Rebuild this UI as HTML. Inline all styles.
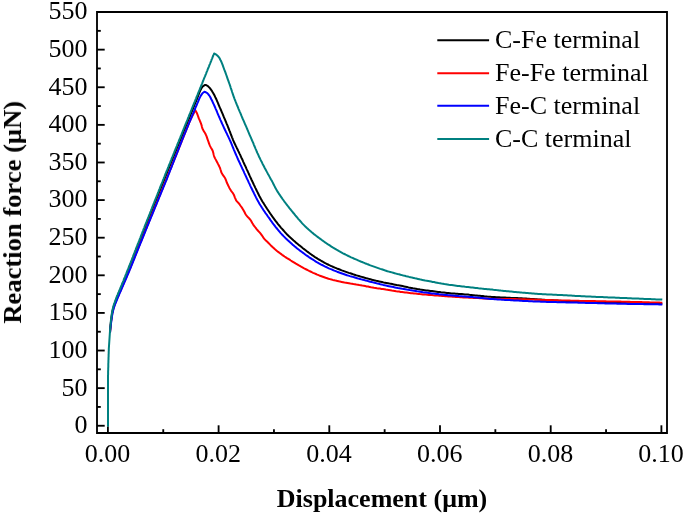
<!DOCTYPE html>
<html lang="en">
<head>
<meta charset="utf-8">
<title>Reaction force vs displacement</title>
<style>
html,body{margin:0;padding:0;background:#fff;}
body{width:685px;height:515px;overflow:hidden;position:relative;font-family:"Liberation Serif","Times New Roman",serif;}
</style>
</head>
<body>
<svg width="685" height="515" viewBox="0 0 685 515" style="position:absolute;left:0;top:0">
<polyline fill="none" stroke="#000000" stroke-width="2" stroke-linejoin="round" points="110.0,332.5 110.1,331.0 110.2,329.5 110.3,328.0 110.5,326.5 110.6,325.1 110.8,323.6 110.9,322.1 111.1,320.6 111.3,319.1 111.5,317.6 111.7,316.1 111.9,314.6 112.1,313.2 112.4,311.7 112.7,310.2 113.1,308.7 113.5,307.3 113.9,305.9 114.4,304.4 114.9,303.0 115.4,301.6 116.0,300.2 116.5,298.8 117.1,297.4 117.6,296.0 118.2,294.6 118.8,293.2 119.4,291.9 120.0,290.5 120.5,289.1 121.1,287.7 121.7,286.3 122.3,284.9 122.8,283.5 123.4,282.2 124.0,280.8 124.5,279.4 125.1,278.0 125.7,276.6 126.2,275.2 126.8,273.8 127.4,272.4 127.9,271.0 128.5,269.7 129.0,268.3 129.6,266.9 130.2,265.5 130.7,264.1 131.3,262.7 131.8,261.3 132.4,259.9 132.9,258.5 133.5,257.1 134.0,255.7 134.6,254.3 135.1,252.9 135.7,251.5 136.2,250.1 136.8,248.7 137.3,247.3 137.9,245.9 138.4,244.5 139.0,243.2 139.5,241.8 140.1,240.4 140.6,239.0 141.2,237.6 141.7,236.2 142.3,234.8 142.8,233.4 143.4,232.0 143.9,230.6 144.5,229.2 145.0,227.8 145.6,226.4 146.1,225.0 146.7,223.6 147.2,222.2 147.8,220.8 148.3,219.5 148.9,218.1 149.4,216.7 150.0,215.3 150.6,213.9 151.1,212.5 151.7,211.1 152.2,209.7 152.8,208.3 153.3,206.9 153.9,205.5 154.4,204.1 155.0,202.7 155.5,201.4 156.1,200.0 156.7,198.6 157.2,197.2 157.8,195.8 158.3,194.4 158.9,193.0 159.4,191.6 160.0,190.2 160.6,188.8 161.1,187.4 161.7,186.0 162.2,184.7 162.8,183.3 163.3,181.9 163.9,180.5 164.5,179.1 165.0,177.7 165.6,176.3 166.1,174.9 166.7,173.5 167.3,172.1 167.8,170.7 168.4,169.4 168.9,168.0 169.5,166.6 170.1,165.2 170.6,163.8 171.2,162.4 171.7,161.0 172.3,159.6 172.9,158.2 173.4,156.9 174.0,155.5 174.6,154.1 175.1,152.7 175.7,151.3 176.3,149.9 176.8,148.5 177.4,147.1 177.9,145.8 178.5,144.4 179.1,143.0 179.6,141.6 180.2,140.2 180.8,138.8 181.3,137.4 181.9,136.0 182.5,134.6 183.0,133.3 183.6,131.9 184.1,130.5 184.7,129.1 185.3,127.7 185.8,126.3 186.4,124.9 187.0,123.5 187.5,122.2 188.1,120.8 188.7,119.4 189.2,118.0 189.8,116.6 190.3,115.2 190.9,113.8 191.5,112.4 192.0,111.1 192.6,109.7 193.1,108.3 193.7,106.9 194.3,105.5 194.8,104.1 195.4,102.7 196.0,101.3 196.5,100.0 197.1,98.6 197.6,97.2 198.2,95.8 198.6,94.5 199.1,93.3 199.6,92.0 200.1,90.8 200.7,89.7 201.3,88.5 202.0,87.4 202.8,86.3 205.1,84.9 206.6,85.3 207.8,86.0 208.9,87.1 209.9,88.2 210.8,89.4 211.7,90.6 212.5,91.9 213.3,93.2 214.0,94.5 214.7,95.8 215.3,97.2 216.0,98.5 216.6,99.9 217.2,101.3 217.8,102.7 218.3,104.0 218.9,105.4 219.5,106.8 220.1,108.2 220.7,109.5 221.3,110.9 221.9,112.3 222.5,113.7 223.1,115.1 223.6,116.4 224.2,117.8 224.8,119.2 225.4,120.6 226.0,122.0 226.5,123.3 227.1,124.7 227.7,126.1 228.2,127.5 228.8,128.9 229.3,130.3 229.9,131.7 230.4,133.1 230.9,134.5 231.5,135.9 232.0,137.3 232.6,138.7 233.1,140.1 233.7,141.4 234.3,142.8 235.0,144.2 235.6,145.5 236.3,146.9 236.9,148.2 237.6,149.5 238.2,150.9 238.9,152.2 239.5,153.6 240.2,154.9 240.8,156.3 241.4,157.7 242.1,159.0 242.7,160.4 243.3,161.8 243.9,163.1 244.5,164.5 245.2,165.8 245.8,167.2 246.4,168.6 247.0,169.9 247.7,171.3 248.3,172.7 248.9,174.0 249.5,175.4 250.1,176.7 250.8,178.1 251.4,179.5 252.0,180.8 252.7,182.2 253.3,183.5 253.9,184.9 254.6,186.2 255.2,187.6 255.9,188.9 256.5,190.3 257.2,191.6 257.9,193.0 258.5,194.3 259.2,195.7 259.9,197.0 260.6,198.3 261.3,199.6 262.1,200.9 262.9,202.2 263.7,203.4 264.5,204.7 265.3,206.0 266.1,207.2 266.9,208.5 267.7,209.7 268.6,211.0 269.4,212.2 270.2,213.5 271.1,214.7 271.9,215.9 272.8,217.2 273.7,218.4 274.6,219.6 275.5,220.8 276.4,222.0 277.3,223.1 278.2,224.3 279.2,225.5 280.1,226.6 281.1,227.8 282.1,228.9 283.1,230.0 284.1,231.2 285.1,232.3 286.1,233.4 287.1,234.5 288.2,235.5 289.2,236.6 290.3,237.6 291.4,238.6 292.5,239.6 293.6,240.6 294.8,241.6 295.9,242.6 297.1,243.5 298.3,244.5 299.4,245.4 300.6,246.3 301.8,247.3 302.9,248.2 304.1,249.1 305.3,250.0 306.5,251.0 307.7,251.9 308.9,252.8 310.1,253.7 311.3,254.5 312.5,255.4 313.8,256.2 315.0,257.1 316.3,257.9 317.5,258.7 318.8,259.5 320.1,260.2 321.4,261.0 322.7,261.7 324.0,262.5 325.3,263.2 326.6,263.8 328.0,264.5 329.3,265.2 330.7,265.8 332.1,266.4 333.4,267.0 334.8,267.6 336.2,268.2 337.6,268.8 339.0,269.3 340.4,269.8 341.8,270.4 343.2,270.9 344.6,271.4 346.0,271.9 347.4,272.4 348.8,272.9 350.3,273.3 351.7,273.8 353.1,274.3 354.5,274.7 356.0,275.2 357.4,275.6 358.8,276.0 360.3,276.5 361.7,276.9 363.1,277.3 364.6,277.7 366.0,278.1 367.5,278.5 368.9,278.9 370.4,279.3 371.8,279.7 373.3,280.1 374.7,280.4 376.2,280.8 377.6,281.1 379.1,281.4 380.6,281.7 382.0,282.0 383.5,282.4 385.0,282.7 386.4,283.0 387.9,283.3 389.4,283.6 390.8,283.8 392.3,284.1 393.8,284.4 395.2,284.7 396.7,285.0 398.2,285.2 399.7,285.5 401.1,285.8 402.6,286.1 404.1,286.4 405.5,286.7 407.0,287.0 408.5,287.4 409.9,287.7 411.4,288.0 412.9,288.3 414.3,288.5 415.8,288.8 417.3,289.1 418.8,289.3 420.2,289.6 421.7,289.8 423.2,290.0 424.7,290.2 426.2,290.4 427.7,290.5 429.1,290.7 430.6,290.9 432.1,291.1 433.6,291.3 435.1,291.5 436.6,291.7 438.1,291.9 439.5,292.1 441.0,292.3 442.5,292.4 444.0,292.6 445.5,292.8 447.0,293.0 448.5,293.1 450.0,293.2 451.4,293.4 452.9,293.5 454.4,293.6 455.9,293.7 457.4,293.8 458.9,293.9 460.4,294.0 461.9,294.1 463.4,294.2 464.9,294.4 466.4,294.5 467.9,294.6 469.4,294.8 470.9,294.9 472.3,295.1 473.8,295.2 475.3,295.4 476.8,295.5 478.3,295.7 479.8,295.8 481.3,296.0 482.8,296.1 484.3,296.3 485.8,296.4 487.2,296.6 488.7,296.7 490.2,296.8 491.7,296.9 493.2,297.0 494.7,297.1 496.2,297.2 497.7,297.3 499.2,297.3 500.7,297.4 502.2,297.5 503.7,297.6 505.2,297.6 506.7,297.7 508.2,297.8 509.7,297.8 511.2,297.9 512.7,297.9 514.2,298.0 515.7,298.1 517.2,298.1 518.7,298.2 520.2,298.3 521.6,298.3 523.1,298.4 524.6,298.5 526.1,298.6 527.6,298.7 529.1,298.8 530.6,298.9 532.1,299.0 533.6,299.1 535.1,299.2 536.6,299.3 538.1,299.4 539.6,299.5 541.1,299.6 542.6,299.7 544.1,299.8 545.6,299.9 547.1,300.0 548.5,300.1 550.0,300.2 551.5,300.3 553.0,300.3 554.5,300.4 556.0,300.5 557.5,300.6 559.0,300.7 560.5,300.8 562.0,300.9 563.5,301.0 565.0,301.1 566.5,301.1 568.0,301.2 569.5,301.3 571.0,301.4 572.5,301.5 574.0,301.5 575.5,301.6 577.0,301.7 578.5,301.7 580.0,301.8 581.4,301.9 582.9,301.9 584.4,302.0 585.9,302.0 587.4,302.1 588.9,302.1 590.4,302.2 591.9,302.2 593.4,302.3 594.9,302.3 596.4,302.4 597.9,302.4 599.4,302.5 600.9,302.5 602.4,302.6 603.9,302.6 605.4,302.7 606.9,302.7 608.4,302.7 609.9,302.8 611.4,302.8 612.9,302.9 614.4,302.9 615.9,302.9 617.4,303.0 618.9,303.0 620.4,303.0 621.9,303.1 623.4,303.1 624.9,303.1 626.4,303.2 627.9,303.2 629.4,303.2 630.9,303.3 632.3,303.3 633.8,303.3 635.3,303.4 636.8,303.4 638.3,303.4 639.8,303.4 641.3,303.5 642.8,303.5 644.3,303.5 645.8,303.6 647.3,303.6 648.8,303.6 650.3,303.6 651.8,303.7 653.3,303.7 654.8,303.7 656.3,303.7 657.8,303.7 659.3,303.8 660.8,303.8 662.3,303.8"/>
<polyline fill="none" stroke="#ff0000" stroke-width="2" stroke-linejoin="round" points="110.0,332.5 110.1,331.0 110.3,329.5 110.4,328.0 110.5,326.5 110.7,325.1 110.9,323.6 111.0,322.1 111.2,320.6 111.4,319.1 111.6,317.6 111.8,316.1 112.1,314.6 112.3,313.2 112.6,311.7 113.0,310.2 113.4,308.7 113.8,307.3 114.3,305.9 114.8,304.4 115.3,303.0 115.9,301.6 116.5,300.2 117.0,298.8 117.6,297.4 118.2,296.0 118.8,294.6 119.4,293.2 120.0,291.9 120.6,290.5 121.2,289.1 121.8,287.7 122.4,286.3 123.0,284.9 123.6,283.5 124.2,282.2 124.8,280.8 125.4,279.4 126.0,278.0 126.6,276.6 127.2,275.2 127.8,273.8 128.4,272.4 129.0,271.0 129.5,269.7 130.1,268.3 130.7,266.9 131.2,265.5 131.8,264.1 132.4,262.7 132.9,261.3 133.5,259.9 134.1,258.5 134.6,257.1 135.2,255.7 135.7,254.3 136.3,252.9 136.9,251.5 137.4,250.1 138.0,248.7 138.5,247.3 139.1,245.9 139.7,244.5 140.2,243.2 140.8,241.8 141.4,240.4 141.9,239.0 142.5,237.6 143.1,236.2 143.6,234.8 144.2,233.4 144.8,232.0 145.3,230.6 145.9,229.2 146.5,227.8 147.0,226.4 147.6,225.0 148.2,223.6 148.7,222.2 149.3,220.8 149.9,219.5 150.4,218.1 151.0,216.7 151.6,215.3 152.2,213.9 152.7,212.5 153.3,211.1 153.9,209.7 154.4,208.3 155.0,206.9 155.6,205.5 156.2,204.1 156.7,202.7 157.3,201.4 157.9,200.0 158.4,198.6 159.0,197.2 159.6,195.8 160.2,194.4 160.7,193.0 161.3,191.6 161.9,190.2 162.5,188.8 163.0,187.4 163.6,186.0 164.2,184.7 164.7,183.3 165.3,181.9 165.9,180.5 166.5,179.1 167.0,177.7 167.6,176.3 168.1,174.9 168.7,173.5 169.2,172.1 169.8,170.7 170.4,169.4 170.9,168.0 171.5,166.6 172.0,165.2 172.6,163.8 173.2,162.4 173.7,161.0 174.3,159.6 174.8,158.2 175.4,156.9 176.0,155.5 176.5,154.1 177.1,152.7 177.6,151.3 178.2,149.9 178.8,148.5 179.3,147.1 179.9,145.8 180.4,144.4 181.0,143.0 181.6,141.6 182.1,140.2 182.7,138.8 183.3,137.4 183.8,136.0 184.4,134.6 184.9,133.3 185.5,131.9 186.1,130.5 186.6,129.1 187.2,127.7 187.7,126.3 188.3,124.9 188.9,123.5 189.4,122.2 190.0,120.8 190.6,119.4 191.2,118.2 191.8,117.0 192.4,115.9 193.0,114.7 193.6,113.5 195.3,110.1 196.0,111.4 196.7,112.7 197.3,114.1 197.8,115.5 198.3,116.9 198.8,118.4 199.4,119.7 200.0,121.1 200.6,122.5 201.1,123.9 201.6,125.3 201.9,126.8 202.3,128.2 202.9,129.6 203.7,130.9 204.5,132.2 205.3,133.5 205.9,134.8 206.5,136.2 207.0,137.6 207.5,139.1 208.0,140.5 208.5,141.9 209.0,143.3 209.5,144.7 210.1,146.1 210.8,147.4 211.6,148.7 212.3,150.0 212.9,151.4 213.3,152.9 213.6,154.4 214.0,155.8 214.5,157.2 215.2,158.6 215.9,159.9 216.6,161.2 217.3,162.5 218.0,163.9 218.7,165.2 219.3,166.5 220.0,167.9 220.4,169.3 220.9,170.8 221.3,172.2 222.0,173.6 222.8,174.9 223.7,176.1 224.5,177.3 225.3,178.6 225.9,180.0 226.4,181.4 226.9,182.8 227.6,184.2 228.2,185.5 228.9,186.9 229.5,188.2 230.3,189.5 231.1,190.8 232.0,192.0 232.9,193.2 233.7,194.5 234.3,195.9 234.8,197.3 235.4,198.7 236.0,200.1 236.9,201.3 237.9,202.4 238.9,203.5 239.8,204.7 240.7,206.0 241.6,207.2 242.4,208.4 243.2,209.7 243.9,211.0 244.6,212.3 245.3,213.7 246.1,215.0 247.0,216.2 248.0,217.3 249.1,218.3 250.1,219.5 251.0,220.7 251.7,222.0 252.4,223.3 253.2,224.6 254.1,225.8 255.0,227.0 255.9,228.2 256.8,229.4 257.8,230.5 258.8,231.6 259.8,232.7 260.8,233.9 261.7,235.1 262.5,236.3 263.4,237.6 264.3,238.8 265.3,239.9 266.4,240.9 267.5,242.0 268.5,243.0 269.6,244.1 270.6,245.2 271.7,246.2 272.8,247.3 273.9,248.3 275.0,249.3 276.1,250.2 277.3,251.2 278.5,252.1 279.7,253.0 280.9,253.9 282.1,254.8 283.3,255.6 284.5,256.5 285.8,257.3 287.0,258.1 288.3,258.9 289.6,259.7 290.8,260.5 292.1,261.3 293.4,262.1 294.7,262.9 295.9,263.7 297.2,264.4 298.5,265.2 299.8,265.9 301.1,266.7 302.4,267.4 303.7,268.1 305.1,268.8 306.4,269.5 307.7,270.2 309.1,270.9 310.4,271.5 311.8,272.2 313.1,272.8 314.5,273.4 315.9,274.0 317.2,274.6 318.6,275.2 320.0,275.8 321.4,276.3 322.8,276.8 324.2,277.3 325.6,277.8 327.1,278.2 328.5,278.7 329.9,279.1 331.4,279.5 332.8,279.9 334.3,280.2 335.7,280.6 337.2,280.9 338.7,281.2 340.1,281.6 341.6,281.9 343.1,282.2 344.5,282.5 346.0,282.7 347.5,283.0 348.9,283.3 350.4,283.6 351.9,283.8 353.4,284.1 354.8,284.3 356.3,284.6 357.8,284.8 359.3,285.1 360.7,285.3 362.2,285.6 363.7,285.8 365.2,286.1 366.6,286.4 368.1,286.6 369.6,286.9 371.1,287.2 372.5,287.4 374.0,287.7 375.5,287.9 377.0,288.2 378.4,288.4 379.9,288.6 381.4,288.9 382.9,289.1 384.4,289.3 385.8,289.6 387.3,289.8 388.8,290.0 390.3,290.2 391.8,290.5 393.2,290.7 394.7,290.9 396.2,291.2 397.7,291.4 399.2,291.6 400.6,291.9 402.1,292.1 403.6,292.3 405.1,292.5 406.6,292.6 408.1,292.8 409.5,293.0 411.0,293.2 412.5,293.3 414.0,293.5 415.5,293.6 417.0,293.8 418.5,293.9 420.0,294.1 421.5,294.2 422.9,294.4 424.4,294.5 425.9,294.6 427.4,294.8 428.9,294.9 430.4,295.0 431.9,295.1 433.4,295.3 434.9,295.4 436.4,295.5 437.9,295.6 439.4,295.7 440.9,295.8 442.3,296.0 443.8,296.1 445.3,296.2 446.8,296.3 448.3,296.4 449.8,296.5 451.3,296.6 452.8,296.7 454.3,296.8 455.8,296.9 457.3,297.0 458.8,297.1 460.3,297.2 461.8,297.3 463.3,297.4 464.8,297.5 466.2,297.6 467.7,297.6 469.2,297.7 470.7,297.8 472.2,297.8 473.7,297.9 475.2,298.0 476.7,298.1 478.2,298.1 479.7,298.2 481.2,298.3 482.7,298.4 484.2,298.5 485.7,298.6 487.2,298.7 488.7,298.8 490.2,298.8 491.7,298.8 493.2,298.9 494.7,298.9 496.2,298.9 497.7,298.9 499.2,298.9 500.6,298.9 502.1,299.0 503.6,299.0 505.1,299.0 506.6,299.0 508.1,299.0 509.6,299.1 511.1,299.1 512.6,299.1 514.1,299.1 515.6,299.1 517.1,299.2 518.6,299.2 520.1,299.2 521.6,299.3 523.1,299.3 524.6,299.3 526.1,299.4 527.6,299.4 529.1,299.5 530.6,299.5 532.1,299.6 533.6,299.6 535.1,299.7 536.6,299.7 538.1,299.8 539.6,299.8 541.1,299.9 542.6,299.9 544.1,299.9 545.6,300.0 547.0,300.0 548.5,300.1 550.0,300.1 551.5,300.2 553.0,300.2 554.5,300.2 556.0,300.3 557.5,300.3 559.0,300.4 560.5,300.4 562.0,300.5 563.5,300.5 565.0,300.5 566.5,300.6 568.0,300.6 569.5,300.6 571.0,300.7 572.5,300.7 574.0,300.7 575.5,300.8 577.0,300.8 578.5,300.8 580.0,300.9 581.5,300.9 583.0,300.9 584.5,301.0 586.0,301.0 587.5,301.0 589.0,301.0 590.5,301.1 592.0,301.1 593.4,301.1 594.9,301.1 596.4,301.2 597.9,301.2 599.4,301.2 600.9,301.3 602.4,301.3 603.9,301.3 605.4,301.3 606.9,301.4 608.4,301.4 609.9,301.4 611.4,301.4 612.9,301.5 614.4,301.5 615.9,301.5 617.4,301.6 618.9,301.6 620.4,301.6 621.9,301.7 623.4,301.7 624.9,301.7 626.4,301.8 627.9,301.8 629.4,301.8 630.9,301.9 632.4,301.9 633.9,301.9 635.4,302.0 636.9,302.0 638.4,302.1 639.9,302.1 641.3,302.1 642.8,302.2 644.3,302.2 645.8,302.3 647.3,302.3 648.8,302.3 650.3,302.4 651.8,302.4 653.3,302.5 654.8,302.5 656.3,302.5 657.8,302.6 659.3,302.6 660.8,302.7 662.3,302.7"/>
<polyline fill="none" stroke="#0000ff" stroke-width="2" stroke-linejoin="round" points="110.1,332.5 110.2,331.0 110.3,329.5 110.5,328.0 110.6,326.5 110.8,325.1 111.0,323.6 111.2,322.1 111.4,320.6 111.6,319.1 111.8,317.6 112.0,316.1 112.3,314.6 112.5,313.2 112.9,311.7 113.2,310.2 113.6,308.7 114.0,307.3 114.5,305.9 115.0,304.4 115.6,303.0 116.2,301.6 116.8,300.2 117.3,298.8 117.9,297.4 118.5,296.0 119.1,294.6 119.7,293.2 120.3,291.9 120.9,290.5 121.5,289.1 122.1,287.7 122.7,286.3 123.3,284.9 123.9,283.5 124.5,282.2 125.1,280.8 125.7,279.4 126.3,278.0 126.9,276.6 127.5,275.2 128.1,273.8 128.7,272.4 129.3,271.0 129.8,269.7 130.4,268.3 131.0,266.9 131.5,265.5 132.1,264.1 132.7,262.7 133.2,261.3 133.8,259.9 134.4,258.5 134.9,257.1 135.5,255.7 136.0,254.3 136.6,252.9 137.2,251.5 137.7,250.1 138.3,248.7 138.8,247.3 139.4,245.9 140.0,244.5 140.5,243.2 141.1,241.8 141.7,240.4 142.2,239.0 142.8,237.6 143.4,236.2 143.9,234.8 144.5,233.4 145.1,232.0 145.6,230.6 146.2,229.2 146.8,227.8 147.3,226.4 147.9,225.0 148.5,223.6 149.0,222.2 149.6,220.8 150.2,219.5 150.7,218.1 151.3,216.7 151.9,215.3 152.5,213.9 153.0,212.5 153.6,211.1 154.2,209.7 154.7,208.3 155.3,206.9 155.9,205.5 156.5,204.1 157.0,202.7 157.6,201.4 158.2,200.0 158.7,198.6 159.3,197.2 159.9,195.8 160.5,194.4 161.0,193.0 161.6,191.6 162.2,190.2 162.8,188.8 163.3,187.4 163.9,186.0 164.5,184.7 165.0,183.3 165.6,181.9 166.2,180.5 166.8,179.1 167.3,177.7 167.8,176.3 168.4,174.9 168.9,173.5 169.5,172.1 170.0,170.7 170.6,169.4 171.1,168.0 171.7,166.6 172.2,165.2 172.8,163.8 173.3,162.4 173.9,161.0 174.4,159.6 175.0,158.2 175.5,156.9 176.1,155.5 176.6,154.1 177.2,152.7 177.7,151.3 178.3,149.9 178.8,148.5 179.3,147.1 179.9,145.8 180.4,144.4 181.0,143.0 181.5,141.6 182.1,140.2 182.6,138.8 183.2,137.4 183.7,136.0 184.3,134.7 184.9,133.3 185.4,132.0 186.0,130.6 186.5,129.3 187.1,127.9 187.7,126.6 188.2,125.2 188.8,123.9 189.3,122.5 189.9,121.2 190.5,119.8 191.0,118.5 191.6,117.1 192.1,115.8 192.7,114.4 193.3,113.1 193.8,111.7 194.4,110.4 195.0,109.0 195.5,107.7 196.1,106.3 196.7,105.0 197.2,103.6 197.8,102.3 198.4,100.9 198.9,99.6 199.5,98.2 200.2,96.9 200.9,95.6 201.7,94.4 202.5,93.2 204.4,91.8 205.9,92.3 207.1,93.0 208.2,94.1 209.1,95.3 209.9,96.5 210.6,97.8 211.3,99.2 212.0,100.5 212.6,101.9 213.2,103.3 213.9,104.6 214.5,106.0 215.1,107.4 215.7,108.8 216.3,110.1 216.9,111.5 217.4,112.9 218.0,114.3 218.6,115.7 219.2,117.0 219.8,118.4 220.4,119.8 221.0,121.1 221.6,122.5 222.2,123.9 222.9,125.3 223.5,126.6 224.1,128.0 224.7,129.3 225.4,130.7 226.0,132.0 226.7,133.4 227.3,134.7 228.0,136.1 228.6,137.4 229.3,138.8 229.9,140.2 230.5,141.5 231.1,142.9 231.7,144.3 232.2,145.7 232.8,147.1 233.4,148.5 233.9,149.8 234.5,151.2 235.1,152.6 235.7,154.0 236.3,155.4 236.9,156.7 237.5,158.1 238.1,159.5 238.7,160.8 239.4,162.2 240.0,163.5 240.6,164.9 241.3,166.3 241.9,167.6 242.5,169.0 243.2,170.3 243.8,171.7 244.4,173.1 245.0,174.4 245.7,175.8 246.3,177.1 246.9,178.5 247.6,179.9 248.2,181.2 248.8,182.6 249.5,183.9 250.1,185.3 250.7,186.6 251.4,188.0 252.0,189.3 252.7,190.7 253.4,192.0 254.0,193.4 254.7,194.7 255.4,196.1 256.0,197.4 256.7,198.7 257.4,200.0 258.2,201.4 258.9,202.7 259.6,204.0 260.4,205.3 261.2,206.5 262.0,207.8 262.8,209.0 263.6,210.3 264.5,211.5 265.3,212.8 266.2,214.0 267.1,215.2 267.9,216.5 268.8,217.7 269.7,218.9 270.5,220.1 271.4,221.3 272.3,222.6 273.2,223.8 274.1,225.0 275.0,226.1 275.9,227.3 276.9,228.5 277.8,229.6 278.8,230.8 279.7,231.9 280.7,233.1 281.7,234.2 282.8,235.3 283.8,236.4 284.8,237.4 285.9,238.5 287.0,239.5 288.1,240.6 289.2,241.6 290.3,242.6 291.4,243.6 292.5,244.6 293.7,245.5 294.8,246.5 296.0,247.4 297.2,248.4 298.3,249.3 299.5,250.2 300.7,251.2 301.9,252.0 303.1,252.9 304.3,253.8 305.5,254.7 306.8,255.6 308.0,256.4 309.2,257.3 310.5,258.1 311.7,258.9 313.0,259.7 314.3,260.5 315.5,261.3 316.8,262.1 318.1,262.8 319.4,263.6 320.7,264.3 322.1,265.0 323.4,265.7 324.7,266.4 326.1,267.0 327.4,267.6 328.8,268.3 330.2,268.9 331.6,269.4 332.9,270.0 334.3,270.6 335.7,271.1 337.1,271.7 338.5,272.2 339.9,272.7 341.3,273.2 342.8,273.7 344.2,274.2 345.6,274.7 347.0,275.2 348.4,275.6 349.9,276.1 351.3,276.5 352.7,276.9 354.2,277.3 355.6,277.8 357.1,278.2 358.5,278.6 360.0,279.0 361.4,279.4 362.9,279.8 364.3,280.1 365.7,280.5 367.2,280.9 368.6,281.3 370.1,281.7 371.5,282.0 373.0,282.4 374.5,282.8 375.9,283.1 377.4,283.5 378.8,283.8 380.3,284.2 381.7,284.5 383.2,284.9 384.7,285.2 386.1,285.6 387.6,285.9 389.0,286.2 390.5,286.5 392.0,286.8 393.4,287.1 394.9,287.4 396.4,287.7 397.9,288.0 399.3,288.2 400.8,288.5 402.3,288.8 403.8,289.0 405.2,289.3 406.7,289.6 408.2,289.8 409.7,290.1 411.1,290.3 412.6,290.6 414.1,290.8 415.6,291.0 417.1,291.3 418.5,291.5 420.0,291.7 421.5,291.9 423.0,292.2 424.5,292.4 426.0,292.6 427.4,292.8 428.9,293.0 430.4,293.2 431.9,293.4 433.4,293.5 434.9,293.7 436.4,293.9 437.8,294.1 439.3,294.3 440.8,294.4 442.3,294.6 443.8,294.7 445.3,294.9 446.8,295.0 448.3,295.2 449.8,295.3 451.3,295.5 452.8,295.6 454.3,295.7 455.7,295.8 457.2,295.9 458.7,296.1 460.2,296.2 461.7,296.3 463.2,296.4 464.7,296.5 466.2,296.7 467.7,296.8 469.2,296.9 470.7,297.0 472.2,297.1 473.7,297.3 475.2,297.4 476.7,297.5 478.1,297.7 479.6,297.8 481.1,298.0 482.6,298.1 484.1,298.3 485.6,298.5 487.1,298.6 488.6,298.8 490.1,298.9 491.6,299.0 493.1,299.1 494.6,299.2 496.0,299.3 497.5,299.4 499.0,299.5 500.5,299.6 502.0,299.7 503.5,299.8 505.0,299.9 506.5,299.9 508.0,300.0 509.5,300.1 511.0,300.2 512.5,300.3 514.0,300.4 515.5,300.5 517.0,300.5 518.5,300.6 520.0,300.7 521.5,300.8 523.0,300.9 524.5,301.0 526.0,301.0 527.5,301.1 529.0,301.2 530.5,301.3 532.0,301.3 533.5,301.4 535.0,301.5 536.5,301.5 538.0,301.6 539.4,301.6 540.9,301.7 542.4,301.7 543.9,301.8 545.4,301.8 546.9,301.9 548.4,301.9 549.9,302.0 551.4,302.0 552.9,302.0 554.4,302.1 555.9,302.1 557.4,302.2 558.9,302.2 560.4,302.2 561.9,302.3 563.4,302.3 564.9,302.3 566.4,302.4 567.9,302.4 569.4,302.4 570.9,302.5 572.4,302.5 573.9,302.5 575.4,302.6 576.9,302.6 578.4,302.7 579.9,302.7 581.4,302.7 582.9,302.8 584.4,302.8 585.9,302.9 587.4,302.9 588.9,302.9 590.4,303.0 591.9,303.0 593.4,303.1 594.9,303.1 596.4,303.1 597.9,303.2 599.4,303.2 600.9,303.3 602.4,303.3 603.9,303.3 605.4,303.4 606.9,303.4 608.4,303.5 609.9,303.5 611.4,303.5 612.9,303.6 614.4,303.6 615.9,303.6 617.3,303.7 618.8,303.7 620.3,303.7 621.8,303.8 623.3,303.8 624.8,303.8 626.3,303.8 627.8,303.9 629.3,303.9 630.8,303.9 632.3,304.0 633.8,304.0 635.3,304.0 636.8,304.0 638.3,304.1 639.8,304.1 641.3,304.1 642.8,304.1 644.3,304.2 645.8,304.2 647.3,304.2 648.8,304.2 650.3,304.2 651.8,304.3 653.3,304.3 654.8,304.3 656.3,304.3 657.8,304.3 659.3,304.4 660.8,304.4 662.3,304.4"/>
<polyline fill="none" stroke="#008080" stroke-width="2" stroke-linejoin="round" points="108.0,426.8 108.0,425.3 108.0,423.8 108.0,422.3 108.0,420.8 108.0,419.3 108.0,417.8 108.0,416.3 108.0,414.8 108.0,413.3 108.0,411.8 108.0,410.3 108.0,408.8 108.0,407.3 108.0,405.8 108.0,404.3 108.0,402.8 108.0,401.3 108.0,399.8 108.0,398.4 108.0,396.9 108.0,395.4 108.0,393.9 108.0,392.4 108.0,390.9 108.0,389.4 108.0,387.9 108.0,386.4 108.0,384.9 108.0,383.4 108.0,381.9 108.0,380.4 108.0,378.9 108.0,377.4 108.0,375.9 108.1,374.4 108.1,372.9 108.1,371.4 108.2,369.9 108.2,368.4 108.3,366.9 108.3,365.4 108.3,363.9 108.4,362.4 108.4,360.9 108.5,359.4 108.5,357.9 108.6,356.4 108.6,354.9 108.7,353.4 108.7,351.9 108.8,350.4 108.8,349.0 108.9,347.5 109.0,346.0 109.1,344.5 109.2,343.0 109.3,341.5 109.4,340.0 109.5,338.5 109.6,337.0 109.7,335.5 109.8,334.0 109.9,332.5 110.0,331.0 110.1,329.5 110.2,328.0 110.4,326.5 110.5,325.1 110.6,323.6 110.8,322.1 110.9,320.6 111.1,319.1 111.3,317.6 111.5,316.1 111.7,314.6 111.9,313.2 112.2,311.7 112.5,310.2 112.8,308.7 113.1,307.3 113.5,305.9 114.0,304.4 114.5,303.0 115.0,301.6 115.5,300.2 116.0,298.8 116.5,297.4 117.1,296.0 117.7,294.6 118.2,293.2 118.8,291.9 119.4,290.5 120.0,289.1 120.5,287.7 121.1,286.3 121.7,284.9 122.2,283.5 122.8,282.2 123.4,280.8 123.9,279.4 124.5,278.0 125.1,276.6 125.6,275.2 126.2,273.8 126.7,272.4 127.3,271.0 127.8,269.7 128.4,268.3 128.9,266.9 129.5,265.5 130.0,264.1 130.6,262.7 131.1,261.3 131.7,259.9 132.2,258.5 132.8,257.1 133.3,255.7 133.8,254.3 134.4,252.9 134.9,251.5 135.5,250.1 136.0,248.7 136.5,247.3 137.1,245.9 137.6,244.5 138.2,243.2 138.7,241.8 139.3,240.4 139.8,239.0 140.4,237.6 140.9,236.2 141.4,234.8 142.0,233.4 142.5,232.0 143.1,230.6 143.6,229.2 144.2,227.8 144.7,226.4 145.3,225.0 145.8,223.6 146.4,222.2 146.9,220.8 147.5,219.5 148.0,218.1 148.6,216.7 149.1,215.3 149.7,213.9 150.2,212.5 150.8,211.1 151.3,209.7 151.9,208.3 152.4,206.9 153.0,205.5 153.5,204.1 154.1,202.7 154.6,201.4 155.2,200.0 155.7,198.6 156.3,197.2 156.8,195.8 157.4,194.4 157.9,193.0 158.5,191.6 159.0,190.2 159.6,188.8 160.1,187.4 160.7,186.0 161.2,184.7 161.8,183.3 162.4,181.9 162.9,180.5 163.5,179.1 164.0,177.7 164.6,176.3 165.1,174.9 165.7,173.5 166.2,172.1 166.8,170.7 167.4,169.4 167.9,168.0 168.5,166.6 169.0,165.2 169.6,163.8 170.2,162.4 170.7,161.0 171.3,159.6 171.8,158.2 172.4,156.9 173.0,155.5 173.5,154.1 174.1,152.7 174.6,151.3 175.2,149.9 175.8,148.5 176.3,147.1 176.9,145.8 177.4,144.4 178.0,143.0 178.6,141.6 179.1,140.2 179.7,138.8 180.3,137.4 180.8,136.0 181.4,134.6 181.9,133.3 182.5,131.9 183.1,130.5 183.6,129.1 184.2,127.7 184.7,126.3 185.3,124.9 185.9,123.5 186.4,122.2 187.0,120.8 187.6,119.4 188.1,118.0 188.7,116.6 189.2,115.2 189.8,113.8 190.4,112.4 190.9,111.1 191.5,109.7 192.0,108.3 192.6,106.9 193.2,105.5 193.7,104.1 194.3,102.7 194.9,101.3 195.4,100.0 196.0,98.6 196.5,97.2 197.1,95.8 197.7,94.4 198.2,93.0 198.8,91.6 199.4,90.2 199.9,88.8 200.5,87.5 201.0,86.1 201.6,84.7 202.2,83.3 202.7,81.9 203.3,80.5 203.8,79.1 204.4,77.7 205.0,76.4 205.5,75.0 206.1,73.6 206.6,72.2 207.2,70.8 207.7,69.4 208.3,68.0 208.9,66.6 209.4,65.2 210.0,63.8 210.5,62.5 211.1,61.1 211.6,59.7 212.2,58.3 212.7,56.9 213.3,55.5 214.1,53.5 215.5,54.1 216.7,55.0 217.8,56.0 218.8,57.1 219.6,58.3 220.3,59.7 221.0,61.0 221.6,62.4 222.2,63.8 222.7,65.2 223.2,66.6 223.7,68.0 224.2,69.4 224.8,70.8 225.3,72.2 225.8,73.6 226.3,75.0 226.8,76.4 227.3,77.9 227.8,79.3 228.3,80.7 228.8,82.1 229.3,83.5 229.8,84.9 230.3,86.3 230.7,87.8 231.2,89.2 231.7,90.6 232.1,92.0 232.6,93.4 233.1,94.9 233.6,96.3 234.1,97.7 234.6,99.1 235.2,100.5 235.7,101.9 236.3,103.3 236.8,104.7 237.4,106.0 238.0,107.4 238.5,108.8 239.1,110.2 239.7,111.6 240.3,112.9 240.9,114.3 241.4,115.7 242.0,117.1 242.6,118.5 243.2,119.8 243.8,121.2 244.4,122.6 245.0,124.0 245.6,125.3 246.2,126.7 246.8,128.1 247.4,129.5 248.0,130.8 248.5,132.2 249.1,133.6 249.7,135.0 250.3,136.3 250.9,137.7 251.5,139.1 252.1,140.5 252.7,141.8 253.3,143.2 253.8,144.6 254.4,146.0 255.0,147.4 255.6,148.8 256.2,150.1 256.7,151.5 257.3,152.9 258.0,154.2 258.6,155.6 259.2,157.0 259.9,158.3 260.5,159.6 261.2,161.0 261.9,162.3 262.5,163.7 263.2,165.0 263.9,166.3 264.6,167.7 265.3,169.0 266.0,170.3 266.7,171.6 267.4,172.9 268.1,174.3 268.9,175.6 269.6,176.9 270.3,178.2 271.0,179.5 271.8,180.8 272.5,182.1 273.2,183.5 273.8,184.8 274.5,186.1 275.2,187.5 275.9,188.8 276.6,190.1 277.4,191.4 278.2,192.6 279.0,193.9 279.9,195.1 280.7,196.4 281.6,197.6 282.4,198.8 283.3,200.0 284.2,201.3 285.1,202.5 286.0,203.7 286.9,204.8 287.8,206.0 288.7,207.2 289.6,208.4 290.6,209.5 291.5,210.7 292.5,211.9 293.4,213.0 294.4,214.2 295.3,215.4 296.3,216.5 297.3,217.6 298.2,218.8 299.2,219.9 300.2,221.0 301.2,222.1 302.2,223.3 303.2,224.4 304.2,225.4 305.3,226.5 306.4,227.5 307.5,228.6 308.6,229.6 309.7,230.5 310.9,231.5 312.0,232.5 313.2,233.4 314.3,234.4 315.5,235.3 316.7,236.2 317.9,237.1 319.1,238.0 320.3,238.9 321.5,239.8 322.7,240.7 323.9,241.5 325.1,242.4 326.4,243.3 327.6,244.1 328.9,244.9 330.1,245.7 331.4,246.6 332.7,247.4 333.9,248.1 335.2,248.9 336.5,249.7 337.8,250.4 339.1,251.2 340.4,251.9 341.7,252.6 343.0,253.3 344.4,254.0 345.7,254.7 347.1,255.3 348.4,256.0 349.7,256.6 351.1,257.3 352.5,257.9 353.8,258.5 355.2,259.1 356.6,259.7 358.0,260.3 359.3,260.9 360.7,261.5 362.1,262.0 363.5,262.6 364.9,263.2 366.3,263.7 367.7,264.3 369.0,264.8 370.4,265.4 371.8,265.9 373.3,266.4 374.7,266.9 376.1,267.4 377.5,267.9 378.9,268.4 380.3,268.9 381.7,269.3 383.2,269.8 384.6,270.3 386.0,270.7 387.4,271.2 388.9,271.6 390.3,272.0 391.8,272.4 393.2,272.8 394.6,273.2 396.1,273.6 397.5,274.0 399.0,274.3 400.4,274.7 401.9,275.1 403.3,275.5 404.8,275.8 406.2,276.2 407.7,276.5 409.2,276.9 410.6,277.2 412.1,277.6 413.5,277.9 415.0,278.3 416.4,278.6 417.9,278.9 419.4,279.2 420.8,279.6 422.3,279.9 423.8,280.2 425.2,280.5 426.7,280.7 428.2,281.0 429.6,281.3 431.1,281.6 432.6,281.9 434.1,282.1 435.5,282.4 437.0,282.7 438.5,283.0 440.0,283.2 441.4,283.5 442.9,283.7 444.4,284.0 445.9,284.2 447.3,284.4 448.8,284.7 450.3,284.9 451.8,285.1 453.3,285.3 454.8,285.5 456.2,285.7 457.7,285.9 459.2,286.0 460.7,286.2 462.2,286.4 463.7,286.6 465.2,286.8 466.6,286.9 468.1,287.1 469.6,287.3 471.1,287.5 472.6,287.6 474.1,287.8 475.6,288.0 477.1,288.1 478.5,288.3 480.0,288.4 481.5,288.6 483.0,288.7 484.5,288.9 486.0,289.0 487.5,289.2 489.0,289.3 490.5,289.4 492.0,289.6 493.4,289.8 494.9,289.9 496.4,290.1 497.9,290.2 499.4,290.4 500.9,290.6 502.4,290.7 503.9,290.9 505.4,291.0 506.8,291.2 508.3,291.3 509.8,291.5 511.3,291.6 512.8,291.7 514.3,291.9 515.8,292.0 517.3,292.2 518.8,292.3 520.3,292.4 521.7,292.6 523.2,292.7 524.7,292.8 526.2,293.0 527.7,293.1 529.2,293.2 530.7,293.3 532.2,293.5 533.7,293.6 535.2,293.7 536.7,293.8 538.2,293.9 539.7,294.0 541.2,294.1 542.6,294.2 544.1,294.2 545.6,294.3 547.1,294.4 548.6,294.5 550.1,294.5 551.6,294.6 553.1,294.7 554.6,294.8 556.1,294.8 557.6,294.9 559.1,295.0 560.6,295.0 562.1,295.1 563.6,295.2 565.1,295.3 566.6,295.3 568.1,295.4 569.6,295.5 571.1,295.6 572.6,295.7 574.0,295.8 575.5,295.9 577.0,295.9 578.5,296.0 580.0,296.1 581.5,296.2 583.0,296.2 584.5,296.3 586.0,296.4 587.5,296.5 589.0,296.5 590.5,296.6 592.0,296.7 593.5,296.7 595.0,296.8 596.5,296.9 598.0,296.9 599.5,297.0 601.0,297.1 602.5,297.1 604.0,297.2 605.5,297.2 607.0,297.3 608.4,297.4 609.9,297.4 611.4,297.5 612.9,297.6 614.4,297.6 615.9,297.7 617.4,297.7 618.9,297.8 620.4,297.9 621.9,297.9 623.4,298.0 624.9,298.1 626.4,298.1 627.9,298.2 629.4,298.2 630.9,298.3 632.4,298.4 633.9,298.4 635.4,298.5 636.9,298.6 638.4,298.6 639.9,298.7 641.4,298.7 642.9,298.8 644.3,298.9 645.8,298.9 647.3,299.0 648.8,299.1 650.3,299.1 651.8,299.2 653.3,299.2 654.8,299.3 656.3,299.4 657.8,299.4 659.3,299.5 660.8,299.5 662.3,299.6"/>
<path d="M97.0,12.0 H667.0 V433.0 H97.0 Z" stroke="#000" stroke-width="1.85" fill="none" stroke-linejoin="miter"/>
<g stroke="#000" stroke-width="1.85" stroke-linecap="butt">
<line x1="97.0" x2="104.7" y1="425.75" y2="425.75"/>
<line x1="97.0" x2="104.7" y1="388.14" y2="388.14"/>
<line x1="97.0" x2="100.8" y1="406.94" y2="406.94"/>
<line x1="97.0" x2="104.7" y1="350.53" y2="350.53"/>
<line x1="97.0" x2="100.8" y1="369.33" y2="369.33"/>
<line x1="97.0" x2="104.7" y1="312.92" y2="312.92"/>
<line x1="97.0" x2="100.8" y1="331.73" y2="331.73"/>
<line x1="97.0" x2="104.7" y1="275.31" y2="275.31"/>
<line x1="97.0" x2="100.8" y1="294.12" y2="294.12"/>
<line x1="97.0" x2="104.7" y1="237.70" y2="237.70"/>
<line x1="97.0" x2="100.8" y1="256.50" y2="256.50"/>
<line x1="97.0" x2="104.7" y1="200.09" y2="200.09"/>
<line x1="97.0" x2="100.8" y1="218.90" y2="218.90"/>
<line x1="97.0" x2="104.7" y1="162.48" y2="162.48"/>
<line x1="97.0" x2="100.8" y1="181.29" y2="181.29"/>
<line x1="97.0" x2="104.7" y1="124.87" y2="124.87"/>
<line x1="97.0" x2="100.8" y1="143.68" y2="143.68"/>
<line x1="97.0" x2="104.7" y1="87.26" y2="87.26"/>
<line x1="97.0" x2="100.8" y1="106.06" y2="106.06"/>
<line x1="97.0" x2="104.7" y1="49.65" y2="49.65"/>
<line x1="97.0" x2="100.8" y1="68.46" y2="68.46"/>
<line x1="97.0" x2="100.8" y1="30.85" y2="30.85"/>
<line x1="107.90" x2="107.90" y1="433.0" y2="426.7"/>
<line x1="163.25" x2="163.25" y1="433.0" y2="429.2"/>
<line x1="218.60" x2="218.60" y1="433.0" y2="425.3"/>
<line x1="273.95" x2="273.95" y1="433.0" y2="429.2"/>
<line x1="329.30" x2="329.30" y1="433.0" y2="425.3"/>
<line x1="384.65" x2="384.65" y1="433.0" y2="429.2"/>
<line x1="440.00" x2="440.00" y1="433.0" y2="425.3"/>
<line x1="495.35" x2="495.35" y1="433.0" y2="429.2"/>
<line x1="550.70" x2="550.70" y1="433.0" y2="425.3"/>
<line x1="606.05" x2="606.05" y1="433.0" y2="429.2"/>
<line x1="661.40" x2="661.40" y1="433.0" y2="425.3"/>
</g>
<line x1="437.3" x2="489.1" y1="40.3" y2="40.3" stroke="#000000" stroke-width="2"/>
<line x1="437.3" x2="489.1" y1="73.3" y2="73.3" stroke="#ff0000" stroke-width="2"/>
<line x1="437.3" x2="489.1" y1="105.8" y2="105.8" stroke="#0000ff" stroke-width="2"/>
<line x1="437.3" x2="489.1" y1="139.1" y2="139.1" stroke="#008080" stroke-width="2"/>
<g font-family="'Liberation Serif', 'Times New Roman', serif" font-size="26" fill="#000" style="opacity:0.999">
<text x="87.4" y="433.15" text-anchor="end">0</text>
<text x="87.4" y="395.54" text-anchor="end">50</text>
<text x="87.4" y="357.93" text-anchor="end">100</text>
<text x="87.4" y="320.32" text-anchor="end">150</text>
<text x="87.4" y="282.71" text-anchor="end">200</text>
<text x="87.4" y="245.10" text-anchor="end">250</text>
<text x="87.4" y="207.49" text-anchor="end">300</text>
<text x="87.4" y="169.88" text-anchor="end">350</text>
<text x="87.4" y="132.27" text-anchor="end">400</text>
<text x="87.4" y="94.66" text-anchor="end">450</text>
<text x="87.4" y="57.05" text-anchor="end">500</text>
<text x="87.4" y="19.44" text-anchor="end">550</text>
<text x="107.60" y="462.4" text-anchor="middle">0.00</text>
<text x="218.30" y="462.4" text-anchor="middle">0.02</text>
<text x="329.00" y="462.4" text-anchor="middle">0.04</text>
<text x="439.70" y="462.4" text-anchor="middle">0.06</text>
<text x="550.40" y="462.4" text-anchor="middle">0.08</text>
<text x="661.10" y="462.4" text-anchor="middle">0.10</text>
<text x="495" y="48.3">C-Fe terminal</text>
<text x="495" y="81.3">Fe-Fe terminal</text>
<text x="495" y="113.8">Fe-C terminal</text>
<text x="495" y="147.1">C-C terminal</text>
<text x="382" y="507" text-anchor="middle" font-weight="bold">Displacement (μm)</text>
<text transform="translate(21,212.3) rotate(-90) scale(1.023,1)" text-anchor="middle" font-weight="bold">Reaction force (μN)</text>
</g>
</svg>
</body>
</html>
